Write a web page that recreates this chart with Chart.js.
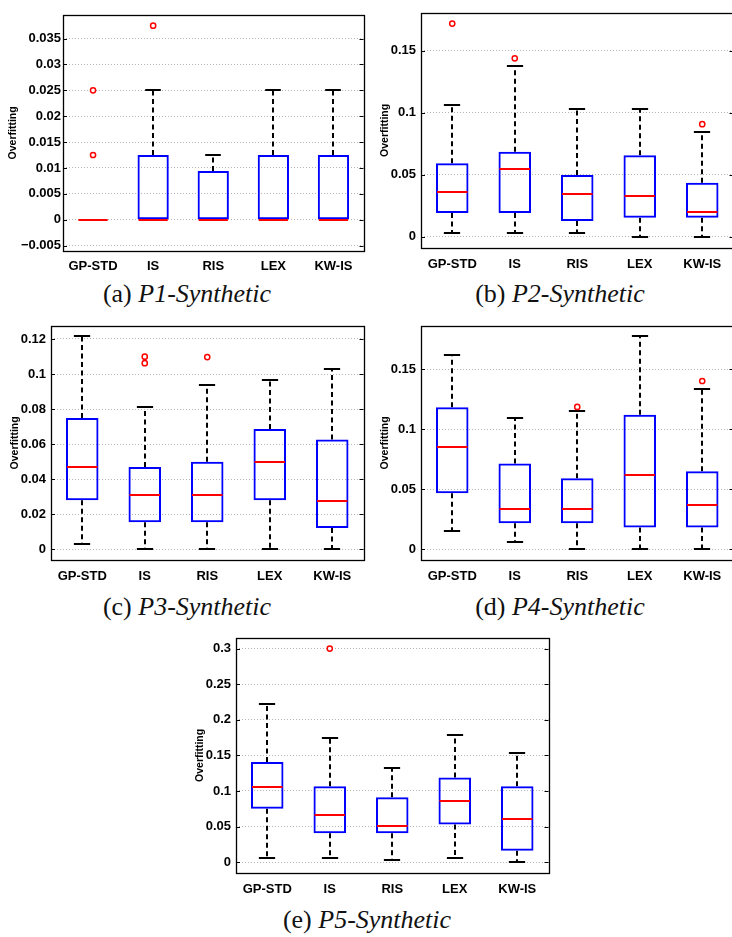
<!DOCTYPE html>
<html>
<head>
<meta charset="utf-8">
<script src="https://cdn.jsdelivr.net/npm/chart.js@4.4.1/dist/chart.umd.min.js"></script>
<style>
html, body { margin: 0; padding: 0; background: #fff; }
body { position: relative; width: 732px; height: 937px; overflow: hidden; }
canvas { position: absolute; }
.cap { position: absolute; width: 366px; text-align: center; white-space: nowrap;
       font-family: "Liberation Serif", serif; font-size: 26px; line-height: 30px; color: #111; }
.cap i { font-style: italic; }
</style>
</head>
<body>
<canvas id="p1"></canvas>
<canvas id="p2"></canvas>
<canvas id="p3"></canvas>
<canvas id="p4"></canvas>
<canvas id="p5"></canvas>
<div class="cap" style="left:4px;top:279px">(a) <i>P1-Synthetic</i></div>
<div class="cap" style="left:377px;top:279px">(b) <i>P2-Synthetic</i></div>
<div class="cap" style="left:4px;top:592px">(c) <i>P3-Synthetic</i></div>
<div class="cap" style="left:377px;top:592px">(d) <i>P4-Synthetic</i></div>
<div class="cap" style="left:184px;top:905px">(e) <i>P5-Synthetic</i></div>
<script>
var categories = ['GP-STD', 'IS', 'RIS', 'LEX', 'KW-IS'];

// (a) P1-Synthetic
var p1Low = [0, 0, 0, 0, 0];
var p1Q1 = [0, 0, 0, 0, 0];
var p1Median = [0, 0, 0, 0, 0];
var p1Q3 = [0, 0.0125, 0.0094, 0.0125, 0.0125];
var p1High = [0, 0.025, 0.0125, 0.025, 0.025];
var p1Outliers = [['GP-STD', 0.0125], ['GP-STD', 0.025], ['IS', 0.0375]];
var p1Ticks = [-0.005, 0, 0.005, 0.01, 0.015, 0.02, 0.025, 0.03, 0.035];

// (b) P2-Synthetic
var p2Low = [0.0032, 0.0032, 0.0032, 0, 0];
var p2Q1 = [0.0193, 0.0193, 0.0127, 0.0153, 0.0153];
var p2Median = [0.0359, 0.0549, 0.0346, 0.0328, 0.0203];
var p2Q3 = [0.0594, 0.0687, 0.0499, 0.0658, 0.0436];
var p2High = [0.1064, 0.1379, 0.103, 0.103, 0.0845];
var p2Outliers = [['GP-STD', 0.172], ['IS', 0.144], ['KW-IS', 0.0909]];
var p2Ticks = [0, 0.05, 0.1, 0.15];

// (c) P3-Synthetic
var p3Low = [0.003, 0, 0, 0, 0];
var p3Q1 = [0.0281, 0.0155, 0.0155, 0.0281, 0.0122];
var p3Median = [0.047, 0.0313, 0.0313, 0.0498, 0.0279];
var p3Q3 = [0.0749, 0.047, 0.05, 0.0687, 0.0627];
var p3High = [0.1219, 0.0811, 0.0938, 0.0968, 0.103];
var p3Outliers = [['IS', 0.1062], ['IS', 0.1099], ['RIS', 0.1097]];
var p3Ticks = [0, 0.02, 0.04, 0.06, 0.08, 0.1, 0.12];

// (d) P4-Synthetic
var p4Low = [0.0156, 0.006, 0, 0, 0];
var p4Q1 = [0.0468, 0.0219, 0.0219, 0.0183, 0.0183];
var p4Median = [0.0857, 0.0339, 0.0339, 0.0621, 0.0372];
var p4Q3 = [0.1185, 0.0717, 0.0594, 0.1122, 0.0651];
var p4High = [0.1623, 0.1092, 0.1155, 0.1779, 0.1341];
var p4Outliers = [['RIS', 0.1188], ['KW-IS', 0.1404]];
var p4Ticks = [0, 0.05, 0.1, 0.15];

// (e) P5-Synthetic
var p5Low = [0.006, 0.006, 0.0032, 0.006, 0];
var p5Q1 = [0.075, 0.0405, 0.0405, 0.0529, 0.0161];
var p5Median = [0.1063, 0.0658, 0.0515, 0.086, 0.0607];
var p5Q3 = [0.1408, 0.1067, 0.0911, 0.1191, 0.1067];
var p5High = [0.2222, 0.1748, 0.1316, 0.178, 0.1532];
var p5Outliers = [['IS', 0.3]];
var p5Ticks = [0, 0.05, 0.1, 0.15, 0.2, 0.25, 0.3];

var BOX_FRAC = 0.52;

// whiskers, caps, medians and the axes frame
var boxPlugin = {
    id: 'boxWhiskers',
    beforeDatasetsDraw: function(chart, args, opts) {
        var ctx = chart.ctx, xs = chart.scales.x, ys = chart.scales.y;
        var step = xs.getPixelForValue(1) - xs.getPixelForValue(0);
        var capHalf = step * BOX_FRAC / 4;
        ctx.save();
        ctx.strokeStyle = '#000';
        ctx.lineWidth = 2;
        for (var i = 0; i < opts.low.length; i++) {
            var x = Math.round(xs.getPixelForValue(i));
            ctx.setLineDash([5, 3.5]);
            ctx.beginPath();
            if (opts.high[i] > opts.q3[i]) {
                ctx.moveTo(x, ys.getPixelForValue(opts.q3[i]));
                ctx.lineTo(x, ys.getPixelForValue(opts.high[i]));
            }
            if (opts.low[i] < opts.q1[i]) {
                ctx.moveTo(x, ys.getPixelForValue(opts.q1[i]));
                ctx.lineTo(x, ys.getPixelForValue(opts.low[i]));
            }
            ctx.stroke();
            ctx.setLineDash([]);
            ctx.beginPath();
            [opts.low[i], opts.high[i]].forEach(function(v) {
                var y = Math.round(ys.getPixelForValue(v));
                ctx.moveTo(x - capHalf, y);
                ctx.lineTo(x + capHalf, y);
            });
            ctx.stroke();
        }
        ctx.restore();
    },
    afterDatasetsDraw: function(chart, args, opts) {
        var ctx = chart.ctx, xs = chart.scales.x, ys = chart.scales.y;
        var step = xs.getPixelForValue(1) - xs.getPixelForValue(0);
        var half = step * BOX_FRAC / 2 - 1;
        ctx.save();
        ctx.strokeStyle = '#f00';
        ctx.lineWidth = 2;
        for (var i = 0; i < opts.median.length; i++) {
            var x = xs.getPixelForValue(i);
            var y = Math.round(ys.getPixelForValue(opts.median[i]));
            ctx.beginPath();
            ctx.moveTo(x - half, y);
            ctx.lineTo(x + half, y);
            ctx.stroke();
        }
        ctx.restore();
    },
    afterDraw: function(chart) {
        var ctx = chart.ctx, a = chart.chartArea, ys = chart.scales.y;
        ctx.save();
        ctx.strokeStyle = '#000';
        ctx.lineWidth = 1;
        ys.ticks.forEach(function(t) {
            var y = Math.round(ys.getPixelForValue(t.value)) + 0.5;
            ctx.beginPath();
            ctx.moveTo(a.left, y); ctx.lineTo(a.left + 4, y);
            ctx.moveTo(a.right - 4, y); ctx.lineTo(a.right, y);
            ctx.stroke();
        });
        ctx.lineWidth = 1.3;
        ctx.strokeRect(Math.round(a.left) + 0.5, Math.round(a.top) + 0.5,
            Math.round(a.right - a.left), Math.round(a.bottom - a.top));
        ctx.restore();
    }
};

function makePanel(id, p) {
    var padTop = 9, padRight = 3, xh = 26;
    var canvas = document.getElementById(id);
    canvas.width = p.yw + (p.right - p.left) + padRight;
    canvas.height = padTop + (p.bottom - p.top) + xh;
    canvas.style.left = (p.left - p.yw) + 'px';
    canvas.style.top = (p.top - padTop) + 'px';

    return new Chart(canvas.getContext('2d'), {
        type: 'bar',
        data: {
            labels: categories,
            datasets: [{
                data: p.q1.map(function(v, i) { return [v, p.q3[i]]; }),
                backgroundColor: 'rgba(0,0,0,0)',
                borderColor: '#0000ff',
                borderWidth: 2,
                borderSkipped: false,
                barPercentage: BOX_FRAC,
                categoryPercentage: 1
            }, {
                type: 'line',
                data: p.outliers.map(function(o) { return {x: o[0], y: o[1]}; }),
                showLine: false,
                pointRadius: 2.6,
                pointBorderWidth: 1.5,
                pointBorderColor: '#ff0000',
                pointBackgroundColor: '#ffffff'
            }]
        },
        options: {
            responsive: false,
            animation: false,
            devicePixelRatio: 1,
            layout: { padding: { top: padTop, right: padRight, left: 0, bottom: 0 } },
            plugins: {
                legend: { display: false },
                tooltip: { enabled: false },
                boxWhiskers: { low: p.low, q1: p.q1, median: p.median, q3: p.q3, high: p.high }
            },
            scales: {
                x: {
                    grid: { display: false },
                    border: { display: false },
                    afterFit: function(s) { s.height = xh; },
                    ticks: {
                        autoSkip: false, maxRotation: 0, padding: p.xPad,
                        color: '#000',
                        font: { family: '"Liberation Sans", Arial, sans-serif', size: 13, weight: 'bold' }
                    }
                },
                y: {
                    min: p.min, max: p.max,
                    afterFit: function(s) { s.width = p.yw; },
                    afterBuildTicks: function(s) { s.ticks = p.ticks.map(function(v) { return {value: v}; }); },
                    grid: { color: '#b4b4b4', lineWidth: 1, drawTicks: false },
                    border: { display: false, dash: [1, 2] },
                    ticks: {
                        padding: p.yPad,
                        color: '#000',
                        font: { family: '"Liberation Sans", Arial, sans-serif', size: 13, weight: 'bold' },
                        callback: function(v) { return String(v).replace('-', '\u2212'); }
                    },
                    title: {
                        display: true, text: 'Overfitting', color: '#000', padding: 0,
                        font: { family: '"Liberation Sans", Arial, sans-serif', size: 10.5, weight: 'bold' }
                    }
                }
            }
        },
        plugins: [boxPlugin]
    });
}

makePanel('p1', { low: p1Low, q1: p1Q1, median: p1Median, q3: p1Q3, high: p1High, outliers: p1Outliers,
    ticks: p1Ticks, min: -0.00605, max: 0.0396,
    left: 63, top: 14, right: 366, bottom: 251, yw: 56, yPad: 2, xPad: 0 });
makePanel('p2', { low: p2Low, q1: p2Q1, median: p2Median, q3: p2Q3, high: p2High, outliers: p2Outliers,
    ticks: p2Ticks, min: -0.009, max: 0.1807,
    left: 421, top: 9, right: 736, bottom: 248, yw: 42, yPad: 5, xPad: 1 });
makePanel('p3', { low: p3Low, q1: p3Q1, median: p3Median, q3: p3Q3, high: p3High, outliers: p3Outliers,
    ticks: p3Ticks, min: -0.006, max: 0.1275,
    left: 51, top: 322, right: 366, bottom: 560, yw: 42, yPad: 5, xPad: 1 });
makePanel('p4', { low: p4Low, q1: p4Q1, median: p4Median, q3: p4Q3, high: p4High, outliers: p4Outliers,
    ticks: p4Ticks, min: -0.0088, max: 0.1864,
    left: 421, top: 322, right: 736, bottom: 560, yw: 42, yPad: 5, xPad: 1 });
makePanel('p5', { low: p5Low, q1: p5Q1, median: p5Median, q3: p5Q3, high: p5High, outliers: p5Outliers,
    ticks: p5Ticks, min: -0.0152, max: 0.3152,
    left: 236, top: 634, right: 551, bottom: 873, yw: 42, yPad: 5, xPad: 1 });
</script>
</body>
</html>
